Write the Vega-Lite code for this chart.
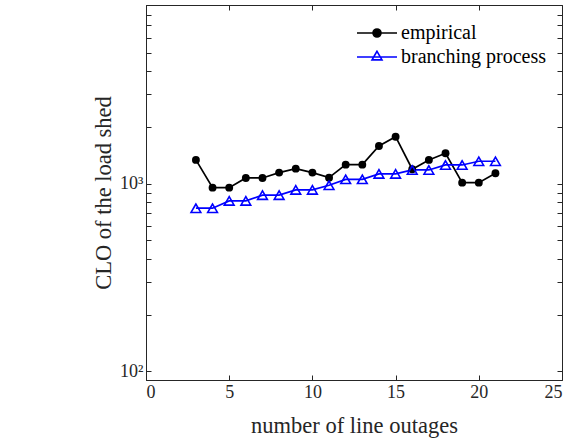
{
  "$schema": "https://vega.github.io/schema/vega-lite/v6.json",
  "width": 416,
  "height": 375,
  "autosize": "none",
  "padding": {"left": 146, "top": 5, "right": 13, "bottom": 58},
  "background": "white",
  "config": {
    "view": {"stroke": "#262626", "strokeWidth": 1},
    "font": "Liberation Serif",
    "axis": {
      "grid": false,
      "domainColor": "#262626",
      "tickColor": "#262626",
      "labelColor": "#262626",
      "titleColor": "#262626",
      "labelFont": "Liberation Serif",
      "titleFont": "Liberation Serif",
      "labelFontSize": 18,
      "titleFontSize": 22.5,
      "titleFontWeight": "normal",
      "tickSize": -5
    },
    "legend": {
      "title": null,
      "orient": "none",
      "padding": 0,
      "symbolSize": 100,
      "symbolStrokeWidth": 1.6,
      "labelFont": "Liberation Serif",
      "labelFontSize": 20,
      "labelColor": "#000000",
      "labelOffset": 14
    }
  },
  "data": {
    "values": [
      {"n": 3, "v": 1343, "series": "empirical"},
      {"n": 4, "v": 955, "series": "empirical"},
      {"n": 5, "v": 955, "series": "empirical"},
      {"n": 6, "v": 1076, "series": "empirical"},
      {"n": 7, "v": 1076, "series": "empirical"},
      {"n": 8, "v": 1149, "series": "empirical"},
      {"n": 9, "v": 1206, "series": "empirical"},
      {"n": 10, "v": 1149, "series": "empirical"},
      {"n": 11, "v": 1080, "series": "empirical"},
      {"n": 12, "v": 1267, "series": "empirical"},
      {"n": 13, "v": 1267, "series": "empirical"},
      {"n": 14, "v": 1594, "series": "empirical"},
      {"n": 15, "v": 1786, "series": "empirical"},
      {"n": 16, "v": 1198, "series": "empirical"},
      {"n": 17, "v": 1343, "series": "empirical"},
      {"n": 18, "v": 1457, "series": "empirical"},
      {"n": 19, "v": 1016, "series": "empirical"},
      {"n": 20, "v": 1016, "series": "empirical"},
      {"n": 21, "v": 1140, "series": "empirical"},
      {"n": 3, "v": 742, "series": "branching process"},
      {"n": 4, "v": 742, "series": "branching process"},
      {"n": 5, "v": 812, "series": "branching process"},
      {"n": 6, "v": 812, "series": "branching process"},
      {"n": 7, "v": 871, "series": "branching process"},
      {"n": 8, "v": 871, "series": "branching process"},
      {"n": 9, "v": 929, "series": "branching process"},
      {"n": 10, "v": 929, "series": "branching process"},
      {"n": 11, "v": 984, "series": "branching process"},
      {"n": 12, "v": 1058, "series": "branching process"},
      {"n": 13, "v": 1058, "series": "branching process"},
      {"n": 14, "v": 1131, "series": "branching process"},
      {"n": 15, "v": 1131, "series": "branching process"},
      {"n": 16, "v": 1187, "series": "branching process"},
      {"n": 17, "v": 1187, "series": "branching process"},
      {"n": 18, "v": 1262, "series": "branching process"},
      {"n": 19, "v": 1262, "series": "branching process"},
      {"n": 20, "v": 1321, "series": "branching process"},
      {"n": 21, "v": 1321, "series": "branching process"}
    ]
  },
  "layer": [
    {
      "transform": [{"filter": "datum.series === 'empirical'"}],
      "mark": {"type": "line", "strokeWidth": 1.7},
      "encoding": {
        "x": {
          "field": "n", "type": "quantitative",
          "scale": {"domain": [0, 25], "nice": false},
          "axis": {"orient": "bottom", "values": [0, 5, 10, 15, 20, 25], "title": "number of line outages", "labelPadding": 8, "titlePadding": 13}
        },
        "y": {
          "field": "v", "type": "quantitative",
          "scale": {"type": "log", "domain": [90, 9000], "nice": false},
          "axis": {
            "orient": "left",
            "values": [100, 200, 300, 400, 500, 600, 700, 800, 900, 1000, 2000, 3000, 4000, 5000, 6000, 7000, 8000, 9000],
            "labelExpr": "datum.value == 100 ? '10²' : datum.value == 1000 ? '10³' : ''",
            "title": "CLO of the load shed",
            "labelPadding": 8,
            "titlePadding": 4
          }
        },
        "color": {
          "field": "series", "type": "nominal",
          "scale": {"domain": ["empirical"], "range": ["#000000"]},
          "legend": {
            "legendX": 221,
            "legendY": 18,
            "symbolType": "M-4,0H4M-0.8,0A0.8,0.8,0,1,1,0.8,0A0.8,0.8,0,1,1,-0.8,0Z",
            "symbolFillColor": "#000000",
            "symbolStrokeColor": "#000000"
          }
        }
      }
    },
    {
      "transform": [{"filter": "datum.series === 'branching process'"}],
      "mark": {"type": "line", "strokeWidth": 1.7},
      "encoding": {
        "x": {"field": "n", "type": "quantitative", "axis": null},
        "y": {"field": "v", "type": "quantitative", "axis": null},
        "color": {
          "field": "series", "type": "nominal",
          "scale": {"domain": ["branching process"], "range": ["#0000FF"]},
          "legend": {
            "legendX": 221,
            "legendY": 42,
            "symbolType": "M-4,0H4M0,-1.15L-1,0.58L1,0.58Z",
            "symbolFillColor": "transparent",
            "symbolStrokeColor": "#0000FF"
          }
        }
      }
    },
    {
      "transform": [{"filter": "datum.series === 'empirical'"}],
      "mark": {"type": "point", "shape": "circle", "filled": true, "size": 62, "color": "#000000", "opacity": 1},
      "encoding": {
        "x": {"field": "n", "type": "quantitative", "axis": null},
        "y": {"field": "v", "type": "quantitative", "axis": null}
      }
    },
    {
      "transform": [{"filter": "datum.series === 'branching process'"}],
      "mark": {"type": "point", "shape": "triangle-up", "filled": false, "size": 95, "strokeWidth": 1.6, "color": "#0000FF", "opacity": 1},
      "encoding": {
        "x": {"field": "n", "type": "quantitative", "axis": null},
        "y": {"field": "v", "type": "quantitative", "axis": null}
      }
    },
    {
      "mark": {"type": "line", "opacity": 0},
      "encoding": {
        "x": {
          "field": "n", "type": "quantitative",
          "axis": {"orient": "top", "values": [0, 5, 10, 15, 20, 25], "labels": false, "title": null, "domain": false}
        },
        "y": {
          "field": "v", "type": "quantitative",
          "axis": {
            "orient": "right",
            "values": [100, 200, 300, 400, 500, 600, 700, 800, 900, 1000, 2000, 3000, 4000, 5000, 6000, 7000, 8000, 9000],
            "labels": false, "title": null, "domain": false
          }
        },
        "detail": {"field": "series"}
      }
    }
  ],
  "resolve": {"axis": {"x": "independent", "y": "independent"}, "scale": {"color": "independent"}}
}
